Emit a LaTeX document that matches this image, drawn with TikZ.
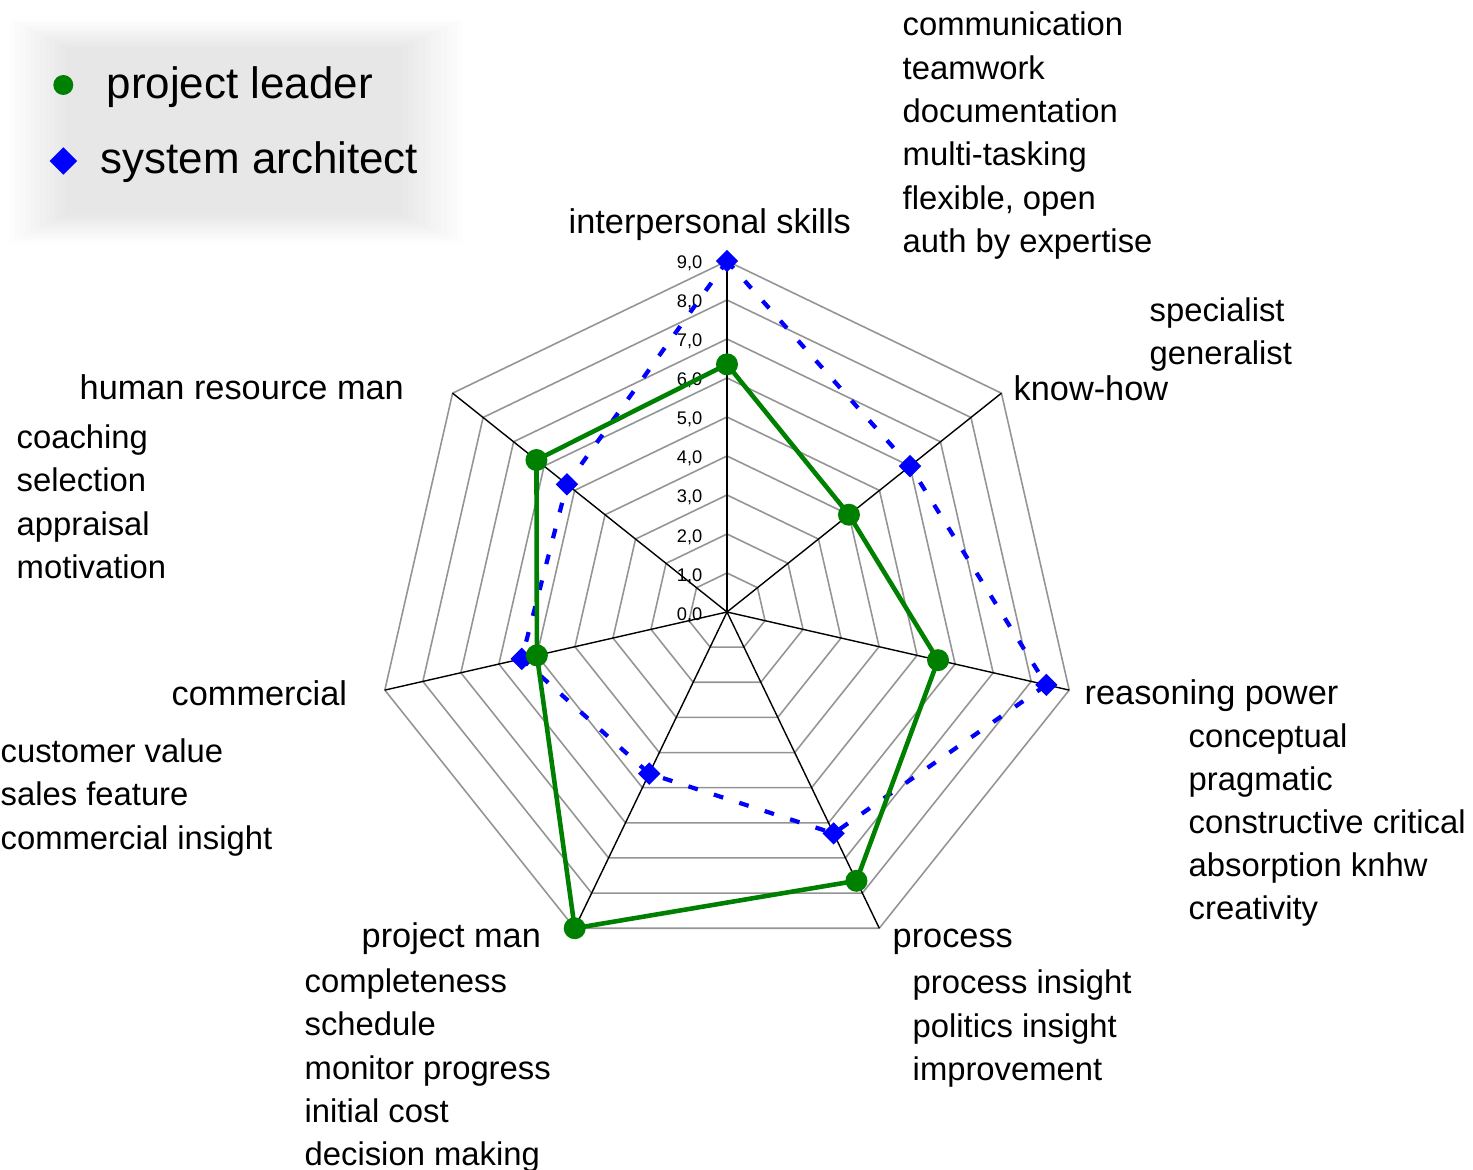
\documentclass[tikz,border=0pt]{standalone}
\usepackage{fontspec}
\setmainfont{Liberation Sans}
\usetikzlibrary{shapes.geometric}
\definecolor{plgreen}{RGB}{0,128,0}
\definecolor{sablue}{RGB}{0,0,255}
\begin{document}
\begin{tikzpicture}[
	ring/.style={draw=black!42, line width=0.45pt},
	spoke/.style={draw=black, line width=0.4pt},
	title/.style={anchor=base west, inner sep=0pt, font=\fontsize{9.76}{11}\selectfont},
	item/.style={anchor=base west, inner sep=0pt, font=\fontsize{9.33}{11}\selectfont},
	tick/.style={anchor=base east, inner sep=0pt, font=\fontsize{5.2}{6}\selectfont},
	legend/.style={anchor=base west, inner sep=0pt, font=\fontsize{12.5}{14}\selectfont},
	plline/.style={draw=plgreen, line width=1.3pt, line join=round},
	saline/.style={draw=sablue, line width=1.2pt, dash pattern=on 2.8pt off 4.8pt},
	pldot/.style={circle, fill=plgreen, inner sep=0pt, minimum size=0.22cm},
	sadiam/.style={diamond, fill=sablue, inner sep=0pt, minimum size=0.23cm}]
		\def\u{0.39};
		\useasboundingbox (0,0) rectangle (14.73,-11.70);
		\foreach \i in {0,...,11}
			\fill[black, fill opacity=0.0095] (0.10+0.05*\i,-0.20-0.025*\i) rectangle (4.63-0.055*\i,-2.43+0.025*\i);
		\node[pldot, minimum size=0.2cm] (legpl) at (0.633,-0.85) {};
		\node[sadiam, minimum size=0.28cm] (legsa) at (0.633,-1.61) {};
		\node[legend] (legpltext) at (1.06,-0.99) {project leader};
		\node[legend] (legsatext) at (1.00,-1.74) {system architect};
		\begin{scope}[shift={(7.27,-6.12)}]
			\coordinate (C) at (0,0);
			\foreach \k in {1,...,9}
				\draw[ring] (90:\k*\u) \foreach \j in {1,...,6}{-- (90-\j*360/7:\k*\u)} -- cycle;
			\foreach \j in {0,...,6}{
				\coordinate (ax\j) at (90-\j*360/7:9*\u);
				\draw[spoke] (C) -- (ax\j);
			}
			\foreach \k in {0,...,9}
				\node[tick] (tick\k) at (-0.24,\k*\u-0.08) {\k,0};
			\foreach \v [count=\j from 0] in {9.0,6.0,8.4,6.3,4.6,5.4,5.25}
				\coordinate (sa\j) at (90-\j*360/7:\v*\u);
			\foreach \v [count=\j from 0] in {6.35,4.0,5.55,7.65,9.0,5.0,6.25}
				\coordinate (pl\j) at (90-\j*360/7:\v*\u);
			\draw[saline] (sa0) -- (sa1) -- (sa2) -- (sa3) -- (sa4) -- (sa5) -- (sa6) -- cycle;
			\draw[plline] (pl0) -- (pl1) -- (pl2) -- (pl3) -- (pl4) -- (pl5) -- (pl6) -- cycle;
			\foreach \j in {0,...,6}{
				\node[sadiam] (sam\j) at (sa\j) {};
				\node[pldot] (plm\j) at (pl\j) {};
			}
		\end{scope}
		\node[title] (interp) at (5.68,-2.335) {interpersonal skills};
		\foreach \itm [count=\k from 0] in {communication,teamwork,documentation,multi-tasking,{flexible, open},auth by expertise}
			\node[item] (interp\k) at (9.02,-0.36-0.433*\k) {\itm};
		\node[title] (knowhow) at (10.13,-4.005) {know-how};
		\foreach \itm [count=\k from 0] in {specialist,generalist}
			\node[item] (knowhow\k) at (11.49,-3.215-0.433*\k) {\itm};
		\node[title] (reason) at (10.84,-7.045) {reasoning power};
		\foreach \itm [count=\k from 0] in {conceptual,pragmatic,constructive critical,absorption knhw,creativity}
			\node[item] (reason\k) at (11.88,-7.475-0.43*\k) {\itm};
		\node[title] (process) at (8.92,-9.475) {process};
		\foreach \itm [count=\k from 0] in {process insight,politics insight,improvement}
			\node[item] (process\k) at (9.12,-9.935-0.435*\k) {\itm};
		\node[title] (projman) at (3.61,-9.475) {project man};
		\foreach \itm [count=\k from 0] in {completeness,schedule,monitor progress,initial cost,decision making}
			\node[item] (projman\k) at (3.04,-9.925-0.433*\k) {\itm};
		\node[title] (commercial) at (1.71,-7.055) {commercial};
		\foreach \itm [count=\k from 0] in {customer value,sales feature,commercial insight}
			\node[item] (commercial\k) at (0.0,-7.625-0.433*\k) {\itm};
		\node[title] (hrman) at (0.79,-3.995) {human resource man};
		\foreach \itm [count=\k from 0] in {coaching,selection,appraisal,motivation}
			\node[item] (hrman\k) at (0.16,-4.485-0.433*\k) {\itm};
\end{tikzpicture}
\end{document}
